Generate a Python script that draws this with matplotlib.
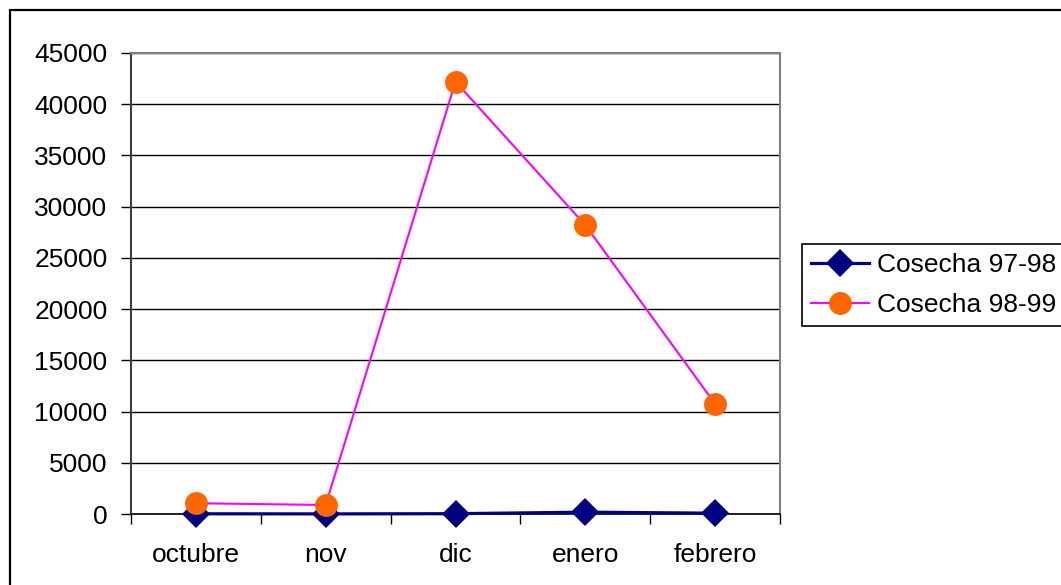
import matplotlib
matplotlib.use("Agg")
import matplotlib.pyplot as plt
from matplotlib.patches import Rectangle
from matplotlib.ticker import MultipleLocator, FixedLocator

months = ["octubre", "nov", "dic", "enero", "febrero"]
cosecha_97_98 = [20, 10, 30, 180, 80]
cosecha_98_99 = [1050, 880, 42200, 28200, 10750]
series_names = ["Cosecha 97-98", "Cosecha 98-99"]

plt.rcParams["font.family"] = ["Liberation Sans", "DejaVu Sans"]
FS = 19

W, H = 1061, 585
fig = plt.figure(figsize=(W / 100, H / 100), dpi=100)
fig.patch.set_facecolor("white")

# outer chart frame (runs off the right and bottom edges)
fig.add_artist(Rectangle((10 / W, -0.05), 1.2, 1 - 10 / H + 0.05,
                         transform=fig.transFigure, fill=False,
                         edgecolor="black", linewidth=1.6, clip_on=False))

left, right, top, bottom = 131, 780, 53, 514
ax = fig.add_axes([left / W, 1 - bottom / H, (right - left) / W, (bottom - top) / H])

x = list(range(len(months)))
ax.plot(x, cosecha_97_98, color="#000080", linewidth=2.3, marker="D",
        markersize=14.5, markeredgewidth=0, label=series_names[0],
        zorder=3, clip_on=False)
ax.plot(x, cosecha_98_99, color="#FF00FF", linewidth=1.5, marker="o",
        markersize=16.5, markerfacecolor="#FF6600", markeredgewidth=0,
        label=series_names[1], zorder=4, clip_on=False)

ax.set_xlim(-0.5, len(months) - 0.5)
ax.set_ylim(0, 45000)
ax.yaxis.set_major_locator(MultipleLocator(5000))
ax.set_xticks(x)
ax.set_xticklabels(months, fontsize=FS)
ax.xaxis.set_minor_locator(FixedLocator([i - 0.5 for i in range(len(months) + 1)]))
ax.tick_params(axis="x", which="major", length=0, pad=21)
ax.tick_params(axis="x", which="minor", length=7, width=1, color="black", direction="out")
ax.tick_params(axis="y", which="major", length=7, width=1, color="black",
               direction="out", pad=10, labelsize=FS)

ax.grid(axis="y", color="black", linewidth=1)
ax.set_axisbelow(True)
for side in ("top", "right"):
    ax.spines[side].set_color("#808080")
    ax.spines[side].set_linewidth(1.5)
ax.spines["left"].set_color("#404040")
ax.spines["left"].set_linewidth(1.5)
ax.spines["bottom"].set_color("black")
ax.spines["bottom"].set_linewidth(1.2)

leg = fig.legend(loc="upper left", bbox_to_anchor=(802 / W, 1 - 244 / H),
                 fontsize=FS, frameon=True, fancybox=False, framealpha=1,
                 edgecolor="black", handlelength=2.2, handletextpad=0.3,
                 borderpad=0.35, labelspacing=0.6, borderaxespad=0)
leg.get_frame().set_linewidth(1.2)

fig.savefig("out.png", dpi=100)
